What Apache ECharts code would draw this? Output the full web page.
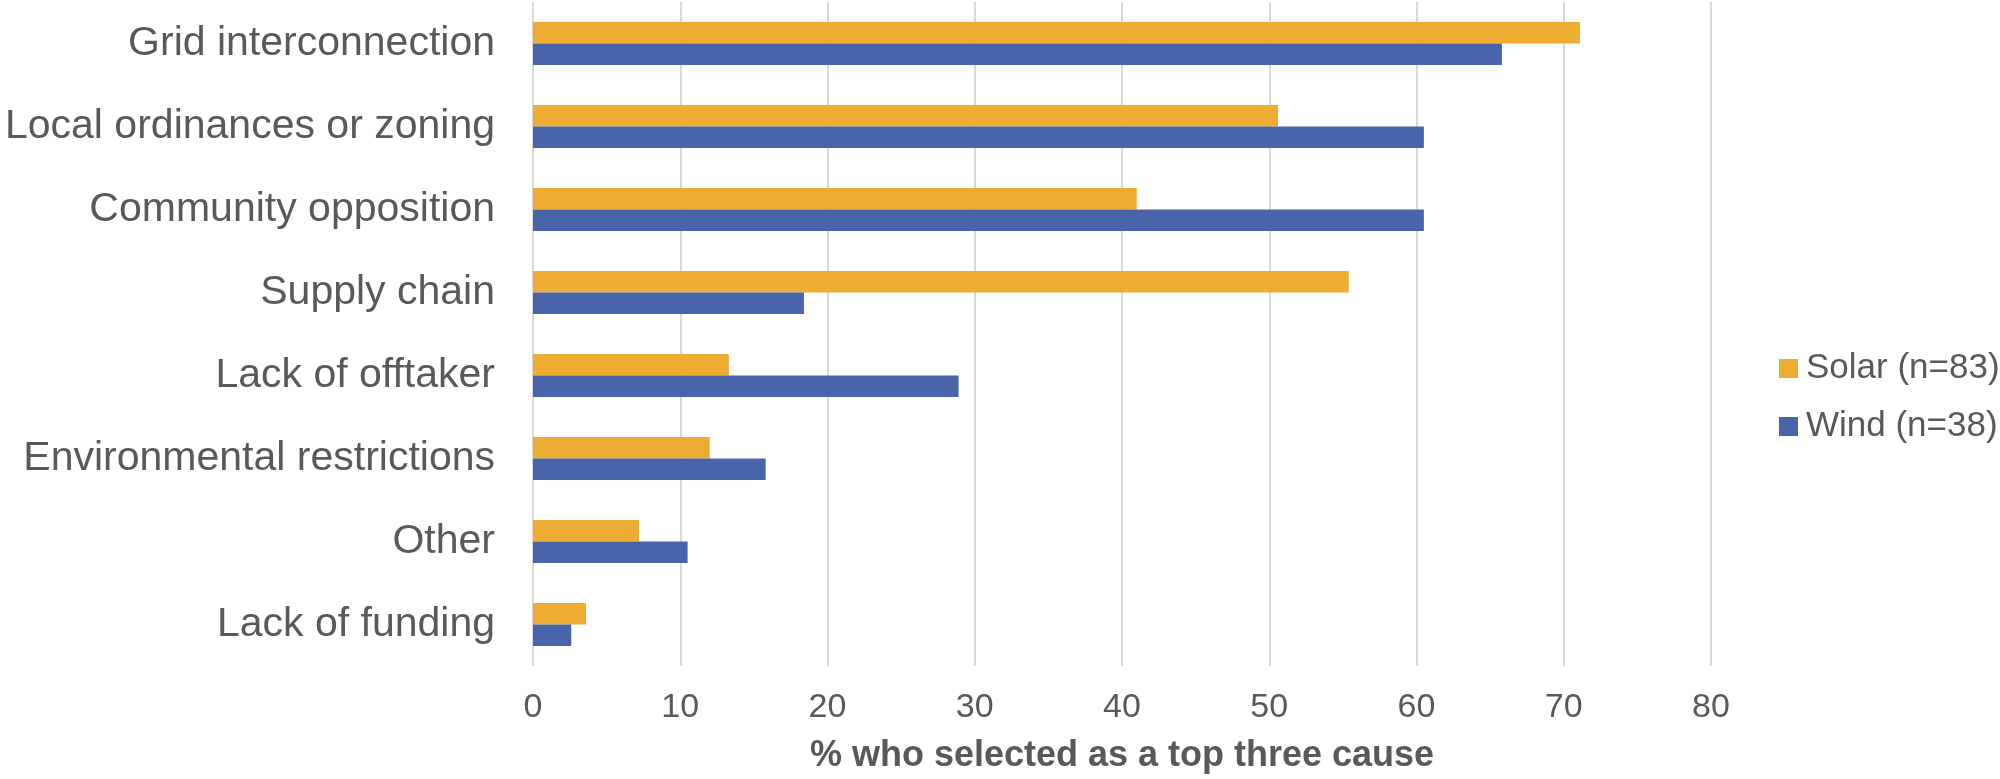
<!DOCTYPE html>
<html>
<head>
<meta charset="utf-8">
<script src="https://cdn.jsdelivr.net/npm/echarts@6/dist/echarts.min.js"></script>
<style>
html,body{margin:0;padding:0;background:#fff;}
#chart{width:2000px;height:779px;}
</style>
</head>
<body>
<div id="chart"></div>
<script>
var categories = ['Grid interconnection','Local ordinances or zoning','Community opposition','Supply chain','Lack of offtaker','Environmental restrictions','Other','Lack of funding'];
var solarValues = [71.1, 50.6, 41.0, 55.4, 13.3, 12.0, 7.2, 3.6];
var windValues = [65.8, 60.5, 60.5, 18.4, 28.9, 15.8, 10.5, 2.6];
var seriesNames = ['Solar (n=83)', 'Wind (n=38)'];
var xTicks = [0, 10, 20, 30, 40, 50, 60, 70, 80];
var axisTitle = '% who selected as a top three cause';

var chart = echarts.init(document.getElementById('chart'), null, {renderer: 'canvas'});
var textColor = '#595959';
var font = 'Liberation Sans, Arial, Helvetica, sans-serif';
chart.setOption({
  backgroundColor: '#ffffff',
  animation: false,
  textStyle: {fontFamily: font, color: textColor},
  grid: {left: 533, right: 289, top: 2, bottom: 111, containLabel: false},
  legend: {
    orient: 'vertical',
    left: 1774,
    top: 346,
    itemWidth: 19,
    itemHeight: 19,
    itemGap: 23,
    icon: 'rect',
    data: seriesNames,
    textStyle: {fontSize: 35, lineHeight: 34, color: textColor, fontFamily: font, padding: [0, 0, 0, 3]}
  },
  xAxis: {
    type: 'value',
    min: xTicks[0],
    max: xTicks[xTicks.length - 1],
    interval: xTicks[1] - xTicks[0],
    name: axisTitle,
    nameLocation: 'middle',
    nameGap: 72,
    nameTextStyle: {fontSize: 36, fontWeight: 'bold', color: textColor, fontFamily: font, lineHeight: 36, verticalAlign: 'top'},
    axisLine: {show: false},
    axisTick: {show: false},
    axisLabel: {fontSize: 34, lineHeight: 34, margin: 25, color: textColor, fontFamily: font},
    splitLine: {show: true, lineStyle: {color: '#D9D9D9', width: 2}}
  },
  yAxis: {
    type: 'category',
    data: categories,
    inverse: true,
    axisLine: {show: false},
    axisTick: {show: false},
    axisLabel: {fontSize: 41, margin: 38, color: textColor, fontFamily: font},
    splitLine: {show: false}
  },
  series: [
    {name: seriesNames[0], type: 'bar', data: solarValues, barWidth: 21.5, barGap: '0%', itemStyle: {color: '#EDAD32'}},
    {name: seriesNames[1], type: 'bar', data: windValues, barWidth: 21.5, barGap: '0%', itemStyle: {color: '#4A64A9'}}
  ]
});
</script>
</body>
</html>
